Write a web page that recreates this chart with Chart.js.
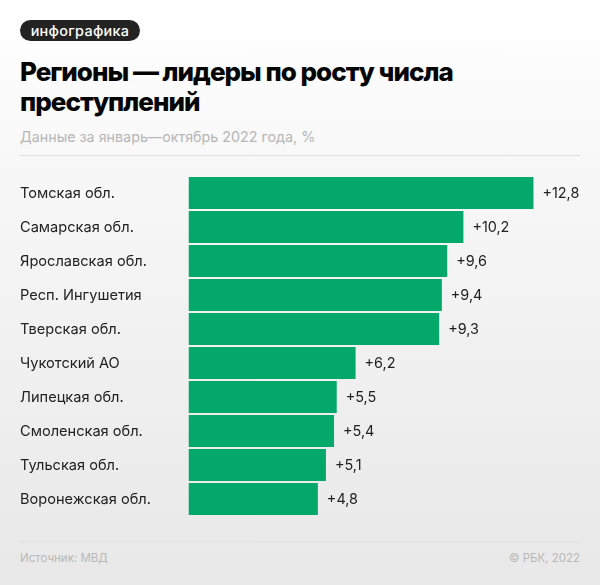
<!DOCTYPE html>
<html lang="ru"><head><meta charset="utf-8">
<script src="https://cdn.jsdelivr.net/npm/chart.js@4"></script>
<style>
html,body{margin:0;padding:0}
body{width:600px;height:585px;position:relative;overflow:hidden;background:linear-gradient(180deg,#ffffff 0%,#f6f6f6 35%,#e8e8e8 100%);font-family:Inter,sans-serif}
.a{position:absolute;white-space:nowrap}
#badge{left:20px;top:20px;width:120px;height:21px;border-radius:11px;background:#232323;color:#fff;font:500 14.4px/21px Inter,sans-serif;text-align:center;letter-spacing:.3px}
#title{left:20px;top:57px;font:800 26px/30px Inter,sans-serif;letter-spacing:-1px;color:#050505}
#sub{left:20px;top:127px;font:400 14.3px/20px Inter,sans-serif;color:#b6b6b6}
.rule{left:20px;width:560px;height:1px;background:#e1e1e1}
.foot{top:549px;font:400 11.5px/18px Inter,sans-serif;color:#b8b8b8}
canvas{position:absolute;left:0;top:0}
</style></head><body>
<div class="a" id="badge">инфографика</div>
<div class="a" id="title">Регионы — лидеры по росту числа<br>преступлений</div>
<div class="a" id="sub">Данные за январь—октябрь 2022 года, %</div>
<div class="a rule" style="top:155px"></div>
<div class="a rule" style="top:541px"></div>
<div class="a foot" style="left:20px">Источник: МВД</div>
<div class="a foot" style="right:20px">© РБК, 2022</div>
<div style="position:absolute;left:0;top:0;width:600px;height:585px"><canvas id="c"></canvas></div>
<script>
const categories=["Томская обл.","Самарская обл.","Ярославская обл.","Респ. Ингушетия","Тверская обл.","Чукотский АО","Липецкая обл.","Смоленская обл.","Тульская обл.","Воронежская обл."];
const values=[12.8,10.2,9.6,9.4,9.3,6.2,5.5,5.4,5.1,4.8];
const valueLabels=["+12,8","+10,2","+9,6","+9,4","+9,3","+6,2","+5,5","+5,4","+5,1","+4,8"];
const labelPlugin={id:'vals',
  beforeDraw(ch){ch.ctx.save();ch.ctx.translate(0,1);},
  beforeDatasetsDraw(ch){ch.ctx.restore();},
  afterDatasetsDraw(ch){
  const g=ch.ctx;g.save();g.font='400 14.4px Inter, sans-serif';g.fillStyle='#222';g.textBaseline='middle';g.textAlign='left';
  ch.getDatasetMeta(0).data.forEach((b,i)=>g.fillText(valueLabels[i],b.x+9,b.y+0.5));
  g.restore();}};
new Chart(document.getElementById('c'),{
  type:'bar',
  data:{labels:categories,datasets:[{data:values,backgroundColor:'#04a86a',borderWidth:0,categoryPercentage:1,barPercentage:0.94}]},
  options:{indexAxis:'y',responsive:true,maintainAspectRatio:false,animation:false,
    layout:{padding:{left:20,right:20,top:176,bottom:69}},
    plugins:{legend:{display:false},tooltip:{enabled:false}},
    scales:{
      x:{display:false,min:0,max:14.527},
      y:{afterFit(s){s.width=168.5},grid:{display:false},border:{display:false},
        ticks:{crossAlign:'far',padding:0,color:'#222',font:{family:'Inter',size:14.6,weight:'400'}}}
    }},
  plugins:[labelPlugin]
});
</script></body></html>
